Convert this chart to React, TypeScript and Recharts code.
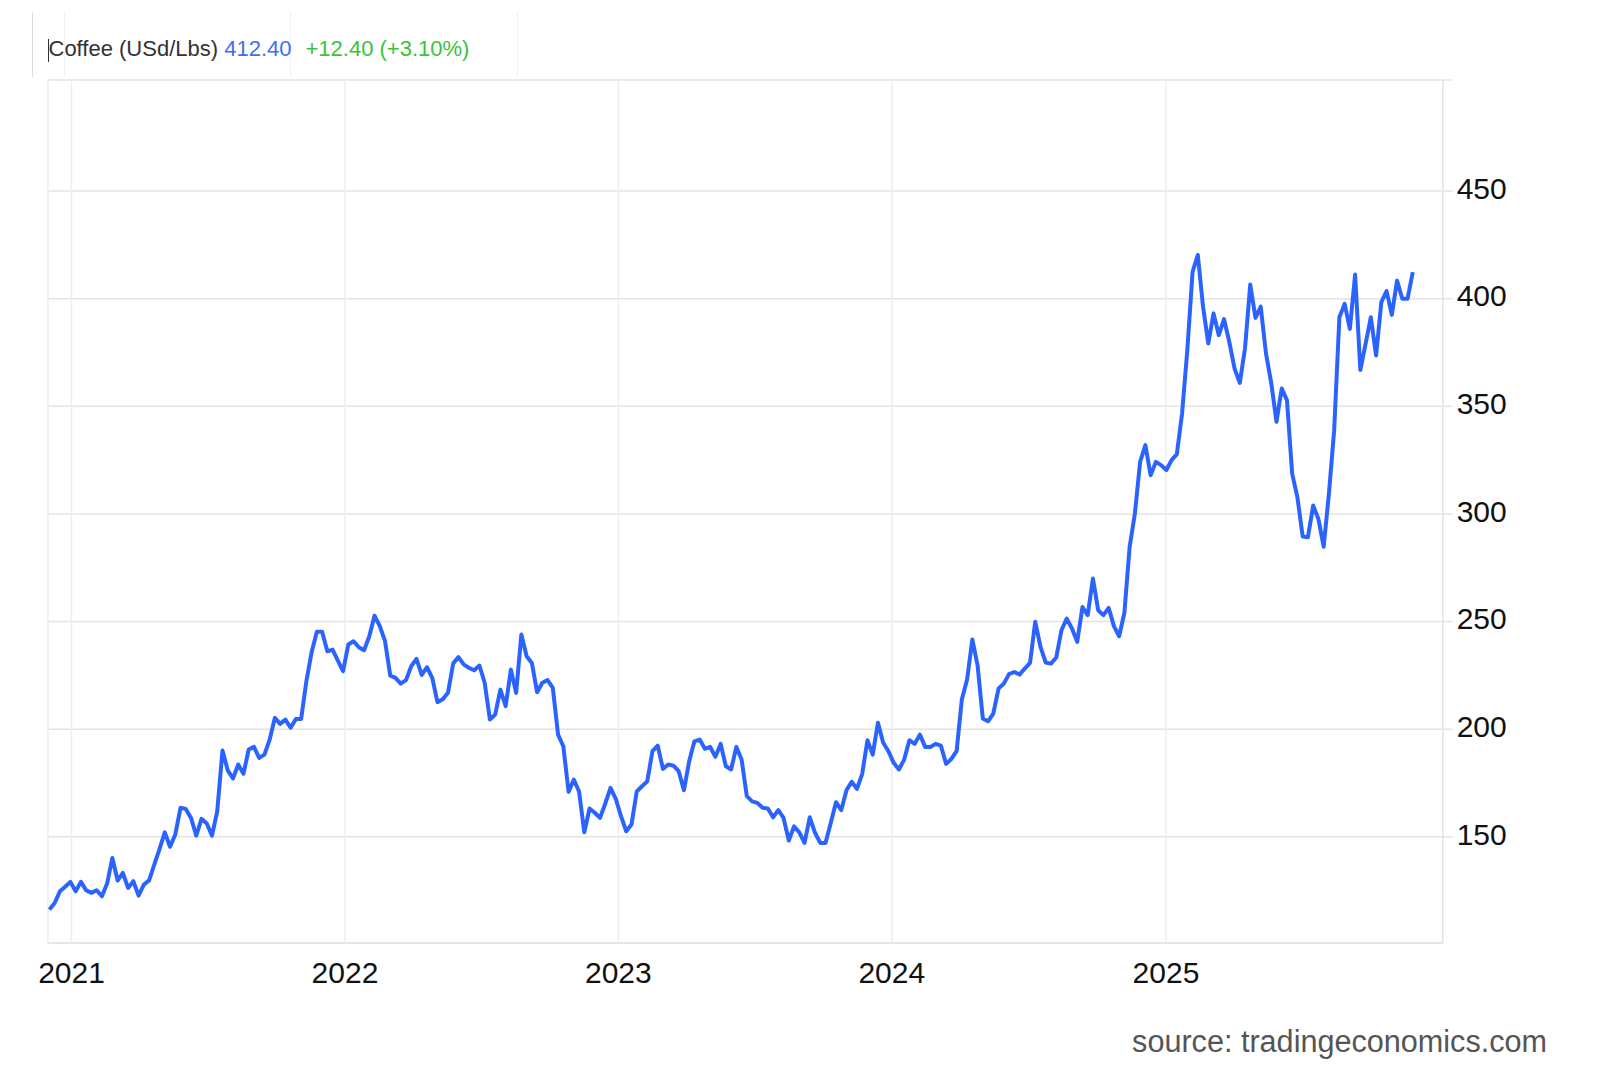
import React from 'react';
import { LineChart, Line, XAxis, YAxis, CartesianGrid } from 'recharts';

// Weekly closing prices of Coffee (USd/Lbs), first week 2020-12-02
const FIRST_WEEK = '2020-12-02T12:00:00Z';

const PRICES_2021: number[] = [
  116.2, 119.3, 124.7, 126.8, 129.1, 124.7, 129.1, 125.2, 124, 125.2, 122.4, 128.3, 140.2, 129.7, 133.3,
  126.3, 129.4, 122.7, 127.8, 129.8, 137.1, 144.4, 152.1, 145.4, 151.1, 163.5, 163, 158.8, 150.6, 158.4,
  156.2, 150.6, 161.9, 190.1, 180.9, 177.1, 183.6, 179.3, 190.6, 191.8, 186.7, 188.2, 195.2, 205.3, 202.5,
  204.5, 200.7, 204.8, 204.8, 222.3, 235.8, 245.3, 245.3, 236.2, 237, 231.9, 227, 239.4, 240.9, 238.1,
];
const PRICES_2022: number[] = [
  236.7, 243.2, 252.8, 247.9, 240.9, 224.9, 223.9, 221.2, 222.8, 229.3, 232.7, 225.2, 228.8, 223.9, 212.6,
  213.9, 216.9, 230.6, 233.5, 230.1, 228.5, 227.4, 229.6, 221.6, 204.5, 206.8, 218.4, 210.7, 227.7, 216.9,
  244, 233.9, 230.8, 217.2, 221.6, 222.8, 219.2, 197.5, 192.1, 170.9, 176.6, 171.1, 152.1, 163.2, 161.2,
  158.8, 165.5, 172.8, 167.7, 159.6, 152.6, 155.7, 171.1, 173.5, 175.8, 189.8, 192.4,
];
const PRICES_2023: number[] = [
  181.6, 183.6, 183.1, 180.5, 171.7, 185.1, 194.4, 195.2, 190.9, 191.8, 187.2, 193.2, 182.8, 181.3, 191.8,
  185.9, 168.9, 166.5, 165.8, 163.5, 163.2, 159.1, 162.4, 158.8, 148.3, 154.9, 152.1, 147.2, 159.1, 151.9,
  147.2, 147.2, 156.5, 166.1, 162.4, 171.7, 175.6, 172.3, 179.3, 194.9, 188.2, 203, 193.7, 189.8, 184.4,
  181.3, 185.9, 194.9, 193.2, 197.5, 191.8, 191.8, 193.2, 192.4, 183.9, 186.2, 189.8, 213.8, 223.1, 241.7,
];
const PRICES_2024: number[] = [
  229.7, 205, 203.7, 207.3, 218.9, 221.2, 225.6, 226.6, 225.4, 228.2, 230.8, 249.9, 238.3, 231, 230.5,
  233.3, 246, 251.4, 246.8, 240.6, 256.8, 253, 270, 255.3, 253, 256.4, 247.9, 243.2, 254.1, 284.7,
  300.2, 324.2, 332, 318, 324.2, 322.7, 320.4, 325, 327.8, 346.7, 376.1, 412.5, 420.3, 396.3, 379.2,
  393.2, 383.1, 390.5, 380, 367.6, 360.9, 376.9, 406.6, 391.1, 396.3, 374.6, 360.9, 342.8, 358.3, 352.9,
];
const PRICES_2025: number[] = [
  318.6, 307.7, 289.5, 289.2, 303.9, 297.7, 284.8, 309.3, 338.7, 391.4, 397.6, 386, 411.2, 366.9, 379,
  391.4, 373.6, 398.4, 403.5, 392.5, 408.4, 400, 400, 412.4,
];

const YEAR_TICKS: string[] = ['2021-01-01', '2022-01-01', '2023-01-01', '2024-01-01', '2025-01-01'];
const PRICE_TICKS: number[] = [150, 200, 250, 300, 350, 400, 450];
const X_DOMAIN: string[] = ['2020-11-30T14:00:00Z', '2026-01-05T10:00:00Z'];
const Y_DOMAIN: number[] = [100.7, 501.6];

const TITLE = 'Coffee (USd/Lbs)';
const LAST = '412.40';
const CHANGE = '+12.40 (+3.10%)';
const SOURCE = 'source: tradingeconomics.com';

const DAY = 86400000;
const PRICES = [...PRICES_2021, ...PRICES_2022, ...PRICES_2023, ...PRICES_2024, ...PRICES_2025];
const start = Date.parse(FIRST_WEEK);
const data = PRICES.map((price, i) => ({ t: start + i * 7 * DAY, price }));
const xTicks = YEAR_TICKS.map((d) => Date.parse(d + 'T00:00:00Z'));
const xDomain = X_DOMAIN.map((d) => Date.parse(d));
const yTicks = [...PRICE_TICKS, Y_DOMAIN[1]];

const FONT = '"Liberation Sans", Arial, Helvetica, sans-serif';

export default function App() {
  return (
    <div style={{ position: 'absolute', left: 0, top: 0, width: 1600, height: 1066, background: '#fff', fontFamily: FONT }}>
      {/* header box lines */}
      <div style={{ position: 'absolute', left: 32, top: 12, width: 1, height: 65, background: '#dcdcdc' }} />
      <div style={{ position: 'absolute', left: 64, top: 12, width: 1, height: 65, background: '#edf1f5' }} />
      <div style={{ position: 'absolute', left: 290, top: 12, width: 1, height: 65, background: '#edf1f5' }} />
      <div style={{ position: 'absolute', left: 517, top: 12, width: 1, height: 65, background: '#edf1f5' }} />
      <div style={{ position: 'absolute', left: 48, top: 39, width: 1.3, height: 23, background: '#333' }} />
      <div style={{ position: 'absolute', left: 48.5, top: 38, fontSize: 22, lineHeight: '22px', whiteSpace: 'nowrap' }}>
        <span style={{ color: '#333' }}>{TITLE} </span>
        <span style={{ color: '#3d6ff6' }}>{LAST}</span>
        <span style={{ color: '#38c43a', marginLeft: 14 }}>{CHANGE}</span>
      </div>
      <div style={{ position: 'absolute', left: 0, top: 0 }}>
        <LineChart width={1600} height={1066} data={data} margin={{ top: 80, left: 48, right: 57.3, bottom: 83 }}>
          <CartesianGrid vertical={false} stroke="#e4e4e4" strokeWidth={1.5} />
          <CartesianGrid horizontal={false} stroke="#eaeff4" strokeWidth={1.5} />
          <XAxis
            dataKey="t"
            type="number"
            scale="linear"
            domain={xDomain}
            ticks={xTicks}
            allowDataOverflow
            height={40}
            tickFormatter={(v: number) => String(new Date(v).getUTCFullYear())}
            tick={{ fontSize: 30, fill: '#111', fontFamily: FONT }}
            tickLine={false}
            tickSize={0}
            tickMargin={19}
            axisLine={{ stroke: '#e4e4e4', strokeWidth: 1.5 }}
          />
          <YAxis
            orientation="right"
            type="number"
            domain={Y_DOMAIN}
            ticks={yTicks}
            allowDataOverflow
            width={100}
            tickFormatter={(v: number) => (PRICE_TICKS.includes(v) ? String(v) : '')}
            tick={{ fontSize: 30, fill: '#111', fontFamily: FONT, dy: -3 }}
            tickSize={10}
            tickMargin={4}
            tickLine={{ stroke: '#e4e4e4', strokeWidth: 1.5 }}
            axisLine={{ stroke: '#e4e4e4', strokeWidth: 1.5 }}
          />
          <Line
            type="linear"
            dataKey="price"
            stroke="#2b63ff"
            strokeWidth={4}
            dot={false}
            isAnimationActive={false}
            strokeLinejoin="round"
          />
        </LineChart>
      </div>
      <div style={{ position: 'absolute', right: 53, top: 1026, fontSize: 30.6, lineHeight: '30px', color: '#555', whiteSpace: 'nowrap' }}>
        {SOURCE}
      </div>
    </div>
  );
}
